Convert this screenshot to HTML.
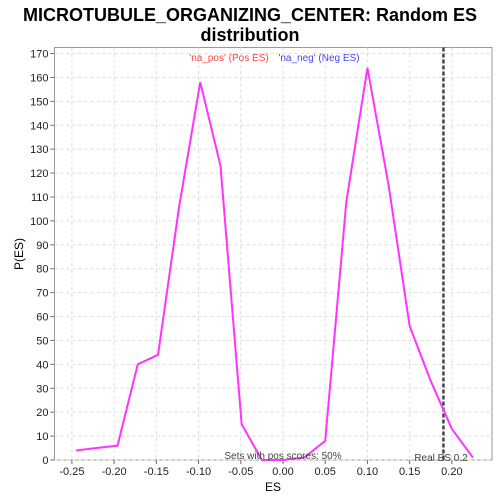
<!DOCTYPE html>
<html><head><meta charset="utf-8"><style>
body{margin:0;background:#fff;font-family:"Liberation Sans",sans-serif}
svg{display:block}
</style></head><body>
<svg width="500" height="500" xmlns="http://www.w3.org/2000/svg">
<g id="root"></g>
</svg>
<script>
const xs=[-0.245,-0.221,-0.196,-0.172,-0.148,-0.123,-0.098,-0.074,-0.049,-0.025,0,0.025,0.05,0.075,0.1,0.125,0.15,0.175,0.2,0.225];
const ys=[4,5,6,40,44,106,158,123,15,0,0,1,8,108,164,115,56,33,13,1];
const xTicks=[-0.25,-0.20,-0.15,-0.10,-0.05,0.00,0.05,0.10,0.15,0.20];
const yTicks=[0,10,20,30,40,50,60,70,80,90,100,110,120,130,140,150,160,170];
const realES=0.19;
const L=54.5,R=492,T=47.5,B=460;
const X=v=>283+v*844.4;
const Y=v=>B-v*2.391;
const NS='http://www.w3.org/2000/svg';
const root=document.getElementById('root');
function mk(tag,attrs,txt){const e=document.createElementNS(NS,tag);for(const k in attrs)e.setAttribute(k,attrs[k]);if(txt!==undefined)e.textContent=txt;root.appendChild(e);return e;}
let e;
e=mk('text',{x:250,y:21,'text-anchor':'middle','font-size':18,'font-weight':'bold',fill:'#000'},'MICROTUBULE_ORGANIZING_CENTER: Random ES');


e=mk('text',{x:250,y:41,'text-anchor':'middle','font-size':18,'font-weight':'bold',fill:'#000'},'distribution');


e=mk('rect',{x:L,y:T,width:R-L,height:B-T,fill:'#fff',stroke:'#999'});


yTicks.forEach(t=>{
 e=mk('line',{x1:L,x2:R,y1:Y(t),y2:Y(t),stroke:'#ddd','stroke-dasharray':'3,3'});
 
 
 e=mk('line',{x1:L-4,x2:L,y1:Y(t),y2:Y(t),stroke:'#666'});
 
 
 e=mk('text',{x:L-6,y:Y(t)+4,'text-anchor':'end','font-size':11,fill:'#222'},String(t));
 
 
});
xTicks.forEach(t=>{
 e=mk('line',{x1:X(t),x2:X(t),y1:T,y2:B,stroke:'#ddd','stroke-dasharray':'3,3'});
 
 
 e=mk('line',{x1:X(t),x2:X(t),y1:B,y2:B+4,stroke:'#666'});
 
 
 e=mk('text',{x:X(t),y:B+15,'text-anchor':'middle','font-size':11,fill:'#222'},t.toFixed(2));
 
 
});
e=mk('text',{x:273,y:491,'text-anchor':'middle','font-size':12,fill:'#000'},'ES');


e=mk('text',{x:23,y:254,'text-anchor':'middle','font-size':12,fill:'#000',transform:'rotate(-90 23 254)'},'P(ES)');


e=mk('line',{x1:X(realES),x2:X(realES),y1:T,y2:B,stroke:'#444','stroke-width':2.5,'stroke-dasharray':'4,2'});


e=mk('polyline',{points:xs.map((v,i)=>X(v)+','+Y(ys[i])).join(' '),fill:'none',stroke:'#ff33ff','stroke-width':2});


e=mk('text',{x:229,y:61,'text-anchor':'middle','font-size':10,fill:'#ff4444'},"'na_pos' (Pos ES)");


e=mk('text',{x:319,y:61,'text-anchor':'middle','font-size':10,fill:'#4444ff'},"'na_neg' (Neg ES)");


e=mk('text',{x:283,y:459,'text-anchor':'middle','font-size':10,fill:'#444'},'Sets with pos scores: 50%');


e=mk('text',{x:441,y:461,'text-anchor':'middle','font-size':10,fill:'#444'},'Real ES 0.2');


</script>
</body></html>
